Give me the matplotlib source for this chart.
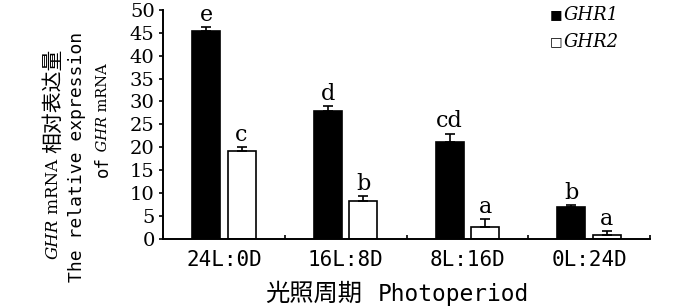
import matplotlib
matplotlib.use("Agg")
import matplotlib.pyplot as plt
import numpy as np

categories = ["24L:0D", "16L:8D", "8L:16D", "0L:24D"]
ghr1 = [45.3, 28.0, 21.2, 6.9]
ghr1_err = [1.0, 0.9, 1.7, 0.4]
ghr2 = [19.1, 8.2, 2.6, 0.8]
ghr2_err = [0.9, 1.0, 1.6, 0.8]
ghr1_letters = ["e", "d", "cd", "b"]
ghr2_letters = ["c", "b", "a", "a"]
yticks = [0, 5, 10, 15, 20, 25, 30, 35, 40, 45, 50]

SERIF = ["DejaVu Serif", "Noto Sans CJK SC"]
MONO = ["DejaVu Sans Mono", "Noto Sans CJK SC"]
CJK = ["Noto Sans CJK SC", "DejaVu Sans"]

W, H = 700, 308
fig = plt.figure(figsize=(7.0, 3.08), dpi=100)
ax = fig.add_axes([163/W, 1-238.5/H, (650-163)/W, (238.5-10)/H])

x = np.arange(len(categories))
w = 0.23
off = 0.145
ax.bar(x - off, ghr1, w, color="black", edgecolor="black", linewidth=1.2, zorder=2)
ax.bar(x + off, ghr2, w, color="white", edgecolor="black", linewidth=1.2, zorder=2)
ax.errorbar(x - off, ghr1, yerr=[np.zeros(4), ghr1_err], fmt="none", ecolor="black",
            elinewidth=1.2, capsize=3.5, capthick=1.2, zorder=3)
ax.errorbar(x + off, ghr2, yerr=[np.zeros(4), ghr2_err], fmt="none", ecolor="black",
            elinewidth=1.2, capsize=3.5, capthick=1.2, zorder=3)

for i in range(4):
    ax.text(x[i] - off, ghr1[i] + ghr1_err[i] + 0.3, ghr1_letters[i], ha="center", va="bottom",
            family=SERIF, fontsize=16)
    ax.text(x[i] + off, ghr2[i] + ghr2_err[i] + 0.3, ghr2_letters[i], ha="center", va="bottom",
            family=SERIF, fontsize=16)

ax.set_xlim(-0.5, 3.5)
ax.set_ylim(0, 50)
ax.set_yticks(yticks)
ax.set_yticklabels([str(t) for t in yticks], family=SERIF, fontsize=14)
ax.tick_params(axis="y", direction="out", length=3, width=1.2, pad=3)
ax.set_xticks(np.arange(-0.5, 4.0, 1.0), minor=False)
ax.set_xticklabels([])
ax.tick_params(axis="x", direction="in", length=3, width=1.2)
ax.set_xticks(x, minor=True)
ax.set_xticklabels(categories, minor=True, family=MONO, fontsize=15)
ax.tick_params(axis="x", which="minor", length=0, pad=8)
for s in ["top", "right"]:
    ax.spines[s].set_visible(False)
for s in ["left", "bottom"]:
    ax.spines[s].set_linewidth(1.4)

# legend
fig.text(556/W, 1-15/H, "\u25A0", ha="center", va="center", fontsize=9.5, family="DejaVu Sans")
fig.text(556/W, 1-42/H, "\u25A1", ha="center", va="center", fontsize=9.5, family="DejaVu Sans")
fig.text(564/W, 1-15/H, "GHR1", ha="left", va="center", fontsize=13, family=SERIF, style="italic")
fig.text(564/W, 1-42/H, "GHR2", ha="left", va="center", fontsize=13, family=SERIF, style="italic")

# x label
fig.text(265/W, 1-294/H, "光照周期", ha="left", va="center", fontsize=17.5, family=CJK)
fig.text(378/W, 1-295/H, "Photoperiod", ha="left", va="center", fontsize=16.5, family=MONO)

# y labels (rotated, composed of pieces)
renderer = fig.canvas.get_renderer()


def rotated_pieces(xc, y_start_px, pieces):
    """Draw rotated pieces going upward starting at y_start_px (pixels from top)."""
    ypix = H - y_start_px
    for txt, fam, sty, fs in pieces:
        t = fig.text(xc/W, ypix/H, txt, rotation=90, ha="center", va="bottom",
                     fontsize=fs, family=fam, style=sty)
        bb = t.get_window_extent(renderer=renderer)
        ypix += bb.height


rotated_pieces(53, 259, [("GHR", SERIF, "italic", 12),
                         (" mRNA ", SERIF, "normal", 12),
                         ("相对表达量", CJK, "normal", 15)])
rotated_pieces(77, 282, [("The relative expression", MONO, "normal", 13)])
rotated_pieces(103, 177, [("of", MONO, "normal", 12.5),
                          (" GHR", SERIF, "italic", 10.5),
                          (" mRNA", SERIF, "normal", 10.5)])

fig.savefig("out.png", dpi=100)
